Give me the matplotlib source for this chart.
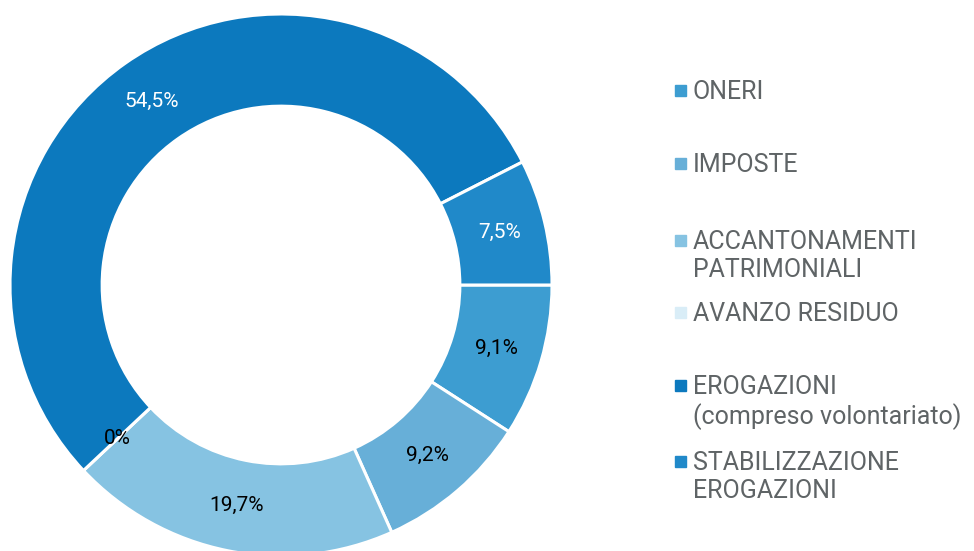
import numpy as np
import matplotlib.pyplot as plt

# dati del grafico (ordine orario a partire da ore 3)
voci = ['ONERI', 'IMPOSTE', 'ACCANTONAMENTI\nPATRIMONIALI', 'AVANZO RESIDUO',
        'EROGAZIONI\n(compreso volontariato)', 'STABILIZZAZIONE\nEROGAZIONI']
valori = [9.1, 9.2, 19.7, 0.0, 54.5, 7.5]
etichette = ['9,1%', '9,2%', '19,7%', '0%', '54,5%', '7,5%']
colori = ['#3d9dd1', '#67afd8', '#86c3e2', '#d9edf7', '#0c79be', '#2089c9']
col_testo = ['black', 'black', 'black', 'black', 'white', 'white']

plt.rcParams['font.family'] = ['Roboto', 'DejaVu Sans']

W, H = 974, 551
cx, cy, R = 281, 285, 271

fig = plt.figure(figsize=(W / 100, H / 100), dpi=100)
ax = fig.add_axes([0, 0, 1, 1])

ws, _ = ax.pie(valori, colors=colori, startangle=0, counterclock=False, radius=1,
               wedgeprops=dict(width=0.34, edgecolor='white', linewidth=2.2))

# la pie resetta i limiti, quindi li imposto dopo
ax.set_xlim(-cx / R, (W - cx) / R)
ax.set_ylim((cy - H) / R, cy / R)
ax.set_aspect('equal')
ax.axis('off')

# etichette percentuali al centro della corona
tot = sum(valori)
ang = 0.0
for v, t, c in zip(valori, etichette, col_testo):
    mid = ang - v / tot * 360 / 2
    r = 0.83
    ax.text(r * np.cos(np.radians(mid)), r * np.sin(np.radians(mid)), t,
            ha='center', va='center', fontsize=15, color=c)
    ang -= v / tot * 360

# legenda fatta a mano
ypos = [90, 163, 240, 312, 385, 461]
for v, col, y in zip(voci, colori, ypos):
    fig.patches.append(plt.Rectangle((675 / W, 1 - (y + 6) / H), 11 / W, 11 / H,
                                     transform=fig.transFigure, color=col))
    fig.text(693 / W, 1 - (y - 10) / H, v, ha='left', va='top', fontsize=18,
             color='#5f6466', linespacing=1.2)

fig.savefig('out.png', dpi=100)
